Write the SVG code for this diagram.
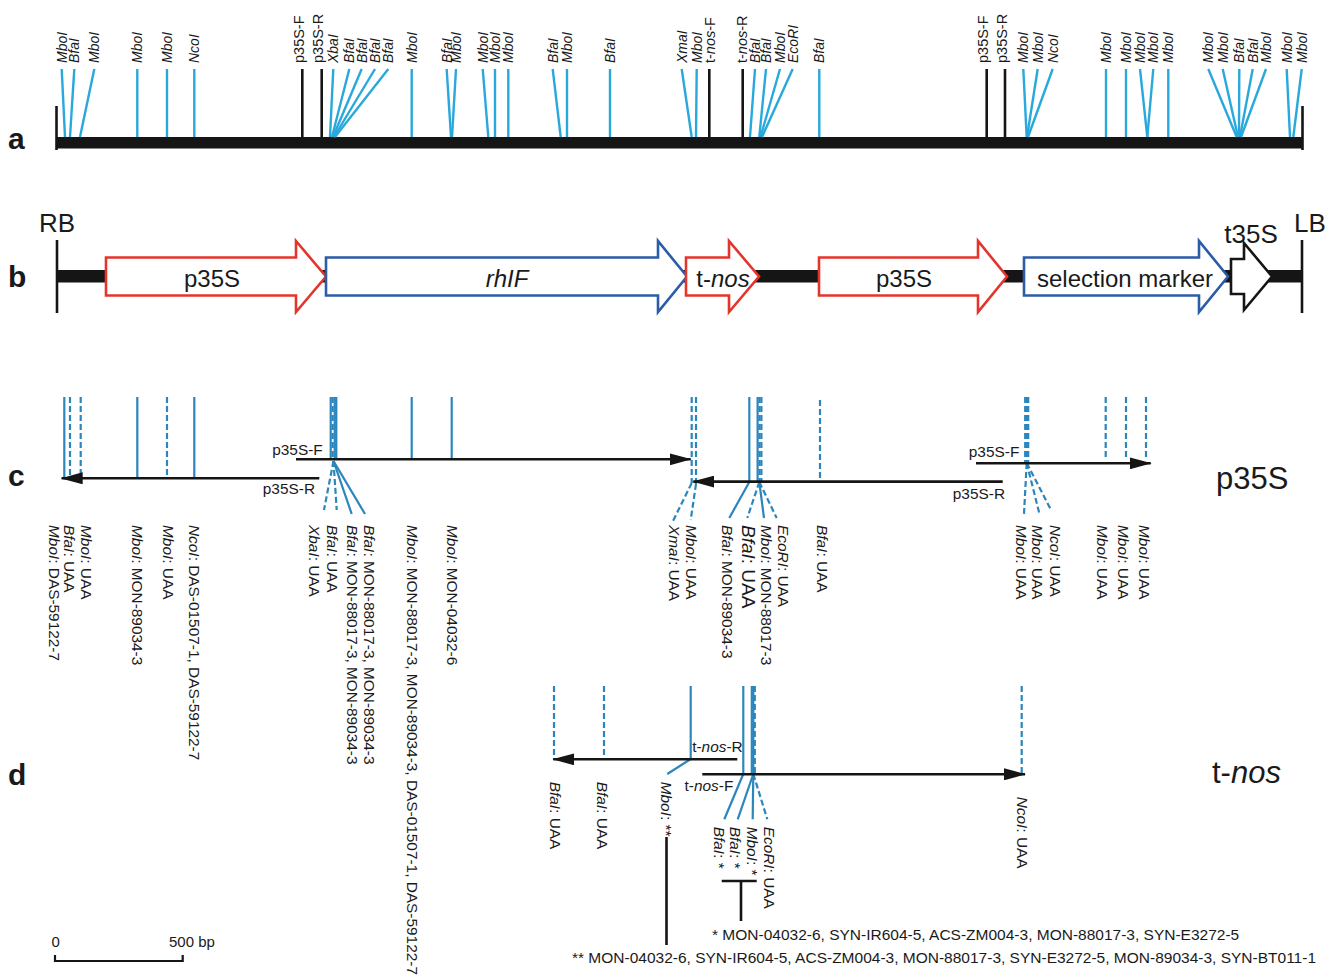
<svg xmlns="http://www.w3.org/2000/svg" width="1336" height="978" viewBox="0 0 1336 978">
<style>
text{font-family:"Liberation Sans",Arial,Helvetica,sans-serif;fill:#1a1a1a}
.i{font-style:italic}
.la{font-size:14px;font-style:italic}
.lp{font-size:14.5px}
.lc{font-size:15.4px}
.big{font-size:24px}
.bb{font-size:26px}
.row{font-size:30px;font-weight:bold}
.a{stroke:#29a8dc;stroke-width:2.4;fill:none}
.k{stroke:#151515;stroke-width:2.6;fill:none}
.c{stroke:#2b86bd;stroke-width:2.2;fill:none}
.cd{stroke:#2b86bd;stroke-width:2.2;fill:none;stroke-dasharray:6 3}
.ar{stroke:#151515;stroke-width:2.6;fill:none;marker-end:url(#ah)}
.red{fill:#fff;stroke:#e3352b;stroke-width:2.6}
.blu{fill:#fff;stroke:#2b5ca8;stroke-width:2.6}
.blk{fill:#fff;stroke:#151515;stroke-width:2.6}
</style>
<defs>
<marker id="ah" markerUnits="userSpaceOnUse" markerWidth="22" markerHeight="12" viewBox="0 0 22 12" refX="21" refY="6" orient="auto">
<path d="M0,0 L22,6 L0,12 z" fill="#151515"/>
</marker>
</defs>
<rect width="1336" height="978" fill="#fff"/>

<g id="row-letters">
<text class="row" x="8" y="149">a</text>
<text class="row" x="8" y="287">b</text>
<text class="row" x="8" y="486">c</text>
<text class="row" x="8" y="785">d</text>
</g>

<!-- ROW A -->
<g id="row-a">
<rect x="56" y="137" width="1247" height="11.5" fill="#151515"/>
<line class="k" x1="56.5" y1="106" x2="56.5" y2="150" stroke-width="2"/>
<line class="k" x1="1302.5" y1="106" x2="1302.5" y2="150" stroke-width="2"/>
<g id="row-a-sites">
<line class="a" x1="61.7" y1="69" x2="65" y2="137"/>
<line class="a" x1="74.3" y1="69" x2="70" y2="137"/>
<line class="a" x1="94.3" y1="69" x2="80" y2="137"/>
<line class="a" x1="137.3" y1="69" x2="137.3" y2="137"/>
<line class="a" x1="167" y1="69" x2="167" y2="137"/>
<line class="a" x1="194.3" y1="69" x2="194.3" y2="137"/>
<line class="a" x1="333.3" y1="69" x2="330" y2="137"/>
<line class="a" x1="349.3" y1="69" x2="332" y2="137"/>
<line class="a" x1="361.7" y1="69" x2="333" y2="137"/>
<line class="a" x1="375" y1="69" x2="334" y2="137"/>
<line class="a" x1="388.3" y1="69" x2="335" y2="137"/>
<line class="a" x1="411.7" y1="69" x2="411.7" y2="137"/>
<line class="a" x1="446.7" y1="69" x2="451" y2="137"/>
<line class="a" x1="456" y1="69" x2="452" y2="137"/>
<line class="a" x1="482.7" y1="69" x2="488.3" y2="137"/>
<line class="a" x1="495" y1="69" x2="495" y2="137"/>
<line class="a" x1="508.3" y1="69" x2="508.3" y2="137"/>
<line class="a" x1="552.7" y1="69" x2="560.7" y2="137"/>
<line class="a" x1="567" y1="69" x2="567" y2="137"/>
<line class="a" x1="610" y1="69" x2="610" y2="137"/>
<line class="a" x1="681.7" y1="69" x2="691.7" y2="137"/>
<line class="a" x1="696.7" y1="69" x2="696" y2="137"/>
<line class="a" x1="755" y1="69" x2="750" y2="137"/>
<line class="a" x1="766" y1="69" x2="759.3" y2="137"/>
<line class="a" x1="780" y1="69" x2="760.5" y2="137"/>
<line class="a" x1="792.7" y1="69" x2="762" y2="137"/>
<line class="a" x1="819.3" y1="69" x2="819.3" y2="137"/>
<line class="a" x1="1023.3" y1="69" x2="1026.7" y2="137"/>
<line class="a" x1="1037.7" y1="69" x2="1027" y2="137"/>
<line class="a" x1="1052.7" y1="69" x2="1028" y2="137"/>
<line class="a" x1="1106" y1="69" x2="1106" y2="137"/>
<line class="a" x1="1126" y1="69" x2="1126" y2="137"/>
<line class="a" x1="1140" y1="69" x2="1147.3" y2="137"/>
<line class="a" x1="1153.3" y1="69" x2="1147.3" y2="137"/>
<line class="a" x1="1168.3" y1="69" x2="1168.3" y2="137"/>
<line class="a" x1="1208.3" y1="69" x2="1236.7" y2="137"/>
<line class="a" x1="1222.7" y1="69" x2="1238" y2="137"/>
<line class="a" x1="1239.3" y1="69" x2="1239" y2="137"/>
<line class="a" x1="1252.7" y1="69" x2="1240" y2="137"/>
<line class="a" x1="1266" y1="69" x2="1241" y2="137"/>
<line class="a" x1="1286.7" y1="69" x2="1290" y2="137"/>
<line class="a" x1="1301.7" y1="69" x2="1293.3" y2="137"/>
<line class="k" x1="302.3" y1="69" x2="302.3" y2="137"/>
<line class="k" x1="321.7" y1="69" x2="321.7" y2="137"/>
<line class="k" x1="709.3" y1="69" x2="709.3" y2="137"/>
<line class="k" x1="742.7" y1="69" x2="742.7" y2="137"/>
<line class="k" x1="986.7" y1="69" x2="986.7" y2="137"/>
<line class="k" x1="1005" y1="69" x2="1005" y2="137"/>
</g>
<g id="row-a-labels" class="la">
<text transform="translate(66.7,63) rotate(-90)">MboI</text>
<text transform="translate(79.3,63) rotate(-90)">BfaI</text>
<text transform="translate(99.3,63) rotate(-90)">MboI</text>
<text transform="translate(142.3,63) rotate(-90)">MboI</text>
<text transform="translate(172,63) rotate(-90)">MboI</text>
<text transform="translate(199.3,63) rotate(-90)">NcoI</text>
<text transform="translate(338.3,63) rotate(-90)">XbaI</text>
<text transform="translate(354.3,63) rotate(-90)">BfaI</text>
<text transform="translate(366.7,63) rotate(-90)">BfaI</text>
<text transform="translate(380,63) rotate(-90)">BfaI</text>
<text transform="translate(393.3,63) rotate(-90)">BfaI</text>
<text transform="translate(416.7,63) rotate(-90)">MboI</text>
<text transform="translate(451.7,63) rotate(-90)">BfaI</text>
<text transform="translate(461,63) rotate(-90)">MboI</text>
<text transform="translate(487.7,63) rotate(-90)">MboI</text>
<text transform="translate(500,63) rotate(-90)">MboI</text>
<text transform="translate(513.3,63) rotate(-90)">MboI</text>
<text transform="translate(557.7,63) rotate(-90)">BfaI</text>
<text transform="translate(572,63) rotate(-90)">MboI</text>
<text transform="translate(615,63) rotate(-90)">BfaI</text>
<text transform="translate(686.7,63) rotate(-90)">XmaI</text>
<text transform="translate(701.7,63) rotate(-90)">MboI</text>
<text transform="translate(760,63) rotate(-90)">BfaI</text>
<text transform="translate(771,63) rotate(-90)">BfaI</text>
<text transform="translate(785,63) rotate(-90)">MboI</text>
<text transform="translate(797.7,63) rotate(-90)">EcoRI</text>
<text transform="translate(824.3,63) rotate(-90)">BfaI</text>
<text transform="translate(1028.3,63) rotate(-90)">MboI</text>
<text transform="translate(1042.7,63) rotate(-90)">MboI</text>
<text transform="translate(1057.7,63) rotate(-90)">NcoI</text>
<text transform="translate(1111,63) rotate(-90)">MboI</text>
<text transform="translate(1131,63) rotate(-90)">MboI</text>
<text transform="translate(1145,63) rotate(-90)">MboI</text>
<text transform="translate(1158.3,63) rotate(-90)">MboI</text>
<text transform="translate(1173.3,63) rotate(-90)">MboI</text>
<text transform="translate(1213.3,63) rotate(-90)">MboI</text>
<text transform="translate(1227.7,63) rotate(-90)">MboI</text>
<text transform="translate(1244.3,63) rotate(-90)">BfaI</text>
<text transform="translate(1257.7,63) rotate(-90)">BfaI</text>
<text transform="translate(1271,63) rotate(-90)">MboI</text>
<text transform="translate(1291.7,63) rotate(-90)">MboI</text>
<text transform="translate(1306.7,63) rotate(-90)">MboI</text>
</g>
<g id="row-a-primers" class="lp">
<text transform="translate(303.8,63) rotate(-90)">p35S-F</text>
<text transform="translate(323.2,63) rotate(-90)">p35S-R</text>
<text transform="translate(714.8,63) rotate(-90)">t-<tspan class="i">nos</tspan>-F</text>
<text transform="translate(746.7,63) rotate(-90)">t-<tspan class="i">nos</tspan>-R</text>
<text transform="translate(988.2,63) rotate(-90)">p35S-F</text>
<text transform="translate(1006.5,63) rotate(-90)">p35S-R</text>
</g>
</g>

<!-- ROW B -->
<g id="row-b">
<rect x="57" y="270" width="1245" height="12.5" fill="#151515"/>
<line class="k" x1="57" y1="240" x2="57" y2="313" stroke-width="2"/>
<line class="k" x1="1302" y1="240" x2="1302" y2="313" stroke-width="2"/>
<text class="bb" x="39" y="232">RB</text>
<text class="bb" x="1294" y="232">LB</text>
<g id="b-p35S-1">
<polygon class="red" points="106,257.5 296,257.5 296,241 326,276.5 296,312 296,295.5 106,295.5"/>
<text class="big" x="212" y="287" text-anchor="middle">p35S</text>
</g>
<g id="b-rhIF">
<polygon class="blu" points="326,257.5 658,257.5 658,241 687,276.5 658,312 658,295.5 326,295.5"/>
<text class="big i" x="507" y="287" text-anchor="middle">rhIF</text>
</g>
<g id="b-t-nos">
<polygon class="red" points="686,257.5 729,257.5 729,241 759,276.5 729,312 729,295.5 686,295.5"/>
<text class="big" x="723" y="287" text-anchor="middle">t-<tspan class="i">nos</tspan></text>
</g>
<g id="b-p35S-2">
<polygon class="red" points="819,257.5 978,257.5 978,241 1007,276.5 978,312 978,295.5 819,295.5"/>
<text class="big" x="904" y="287" text-anchor="middle">p35S</text>
</g>
<g id="b-selection-marker">
<polygon class="blu" points="1024,257.5 1199,257.5 1199,241 1228,276.5 1199,312 1199,295.5 1024,295.5"/>
<text class="big" x="1125" y="287" text-anchor="middle">selection marker</text>
</g>
<g id="b-t35S">
<polygon class="blk" points="1231,259 1244,259 1244,243 1272,276.5 1244,310 1244,294 1231,294"/>
<text class="bb" x="1251" y="243" text-anchor="middle">t35S</text>
</g>
</g>

<!-- ROW C -->
<g id="row-c">
<g id="c-sites">
<line class="c" x1="64.3" y1="397" x2="64.3" y2="478"/>
<line class="cd" x1="70" y1="397" x2="70" y2="478"/>
<line class="cd" x1="80.7" y1="397" x2="80.7" y2="476"/>
<line class="c" x1="137.3" y1="397" x2="137.3" y2="478"/>
<line class="cd" x1="167" y1="397" x2="167" y2="478"/>
<line class="c" x1="194.3" y1="397" x2="194.3" y2="478"/>
<line class="c" x1="330.7" y1="397" x2="330.7" y2="460"/>
<line class="cd" x1="332.7" y1="397" x2="332.7" y2="460"/>
<line class="c" x1="334.7" y1="397" x2="334.7" y2="460"/>
<line class="c" x1="336.3" y1="397" x2="336.3" y2="460"/>
<line class="cd" x1="333.5" y1="461" x2="324" y2="510"/>
<line class="cd" x1="333.5" y1="461" x2="336.7" y2="510"/>
<line class="c" x1="333.5" y1="461" x2="351.7" y2="514"/>
<line class="c" x1="333.5" y1="461" x2="365" y2="514"/>
<line class="c" x1="411.7" y1="397" x2="411.7" y2="459"/>
<line class="c" x1="451.7" y1="397" x2="451.7" y2="459"/>
<line class="cd" x1="691.7" y1="397" x2="691.7" y2="483"/>
<line class="cd" x1="691.7" y1="483" x2="673" y2="521"/>
<line class="cd" x1="696" y1="397" x2="696" y2="484"/>
<line class="cd" x1="696" y1="484" x2="690.7" y2="520"/>
<line class="c" x1="749.3" y1="397" x2="749.3" y2="482"/>
<line class="c" x1="749.3" y1="482" x2="729.3" y2="518"/>
<line class="c" x1="757.6" y1="397" x2="757.6" y2="482"/>
<line class="cd" x1="759.5" y1="397" x2="759.5" y2="482"/>
<line class="cd" x1="761.4" y1="397" x2="761.4" y2="482"/>
<line class="cd" x1="759.3" y1="482" x2="747.3" y2="518"/>
<line class="c" x1="759.3" y1="482" x2="764" y2="518"/>
<line class="cd" x1="759.3" y1="482" x2="776.7" y2="518"/>
<line class="cd" x1="820" y1="400" x2="820" y2="480"/>
<line class="cd" x1="1025.2" y1="397" x2="1025.2" y2="463"/>
<line class="cd" x1="1026.7" y1="397" x2="1026.7" y2="463"/>
<line class="cd" x1="1028.2" y1="397" x2="1028.2" y2="463"/>
<line class="cd" x1="1026.7" y1="463" x2="1024" y2="514"/>
<line class="cd" x1="1026.7" y1="463" x2="1039.3" y2="513.3"/>
<line class="cd" x1="1026.7" y1="463" x2="1050.7" y2="509.3"/>
<line class="cd" x1="1105.7" y1="397" x2="1105.7" y2="460"/>
<line class="cd" x1="1126" y1="397" x2="1126" y2="460"/>
<line class="cd" x1="1146" y1="397" x2="1146" y2="460"/>
</g>
<g id="c-primers">
<line class="ar" x1="319.3" y1="478.3" x2="61.7" y2="478.3"/>
<line class="ar" x1="296" y1="459.3" x2="690.7" y2="459.3"/>
<line class="ar" x1="1002.7" y1="481.6" x2="693.3" y2="481.6"/>
<line class="ar" x1="976" y1="463.3" x2="1150.7" y2="463.3"/>
<text class="lc" x="322.7" y="455" text-anchor="end">p35S-F</text>
<text class="lc" x="315" y="494" text-anchor="end">p35S-R</text>
<text class="lc" x="1019.3" y="457" text-anchor="end">p35S-F</text>
<text class="lc" x="1005" y="498.5" text-anchor="end">p35S-R</text>
</g>
<g id="c-labels" class="lc">
<text transform="translate(48.5,525) rotate(90)"><tspan class="i">MboI</tspan>: DAS-59122-7</text>
<text transform="translate(63.5,525) rotate(90)"><tspan class="i">BfaI</tspan>: UAA</text>
<text transform="translate(80.5,525) rotate(90)"><tspan class="i">MboI</tspan>: UAA</text>
<text transform="translate(132,525) rotate(90)"><tspan class="i">MboI</tspan>: MON-89034-3</text>
<text transform="translate(162.5,525) rotate(90)"><tspan class="i">MboI</tspan>: UAA</text>
<text transform="translate(188.5,525) rotate(90)"><tspan class="i">NcoI</tspan>: DAS-01507-1, DAS-59122-7</text>
<text transform="translate(308.5,525) rotate(90)"><tspan class="i">XbaI</tspan>: UAA</text>
<text transform="translate(326.5,525) rotate(90)"><tspan class="i">BfaI</tspan>: UAA</text>
<text transform="translate(346.5,525) rotate(90)"><tspan class="i">BfaI</tspan>: MON-88017-3, MON-89034-3</text>
<text transform="translate(363.5,525) rotate(90)"><tspan class="i">BfaI</tspan>: MON-88017-3, MON-89034-3</text>
<text transform="translate(406.5,525) rotate(90)"><tspan class="i">MboI</tspan>: MON-88017-3, MON-89034-3, DAS-01507-1, DAS-59122-7</text>
<text transform="translate(446.5,525) rotate(90)"><tspan class="i">MboI</tspan>: MON-04032-6</text>
<text transform="translate(668.5,525) rotate(90)"><tspan class="i">XmaI</tspan>: UAA</text>
<text transform="translate(685.5,525) rotate(90)"><tspan class="i">MboI</tspan>: UAA</text>
<text transform="translate(722,525) rotate(90)"><tspan class="i">BfaI</tspan>: MON-89034-3</text>
<text transform="translate(742,525) rotate(90)" style="font-size:19px"><tspan class="i">BfaI</tspan>: UAA</text>
<text transform="translate(760.5,525) rotate(90)"><tspan class="i">MboI</tspan>: MON-88017-3</text>
<text transform="translate(777.5,525) rotate(90)"><tspan class="i">EcoRI</tspan>: UAA</text>
<text transform="translate(817,525) rotate(90)"><tspan class="i">BfaI</tspan>: UAA</text>
<text transform="translate(1015.5,525) rotate(90)"><tspan class="i">MboI</tspan>: UAA</text>
<text transform="translate(1032,525) rotate(90)"><tspan class="i">MboI</tspan>: UAA</text>
<text transform="translate(1049.5,525) rotate(90)"><tspan class="i">NcoI</tspan>: UAA</text>
<text transform="translate(1097,525) rotate(90)"><tspan class="i">MboI</tspan>: UAA</text>
<text transform="translate(1117.5,525) rotate(90)"><tspan class="i">MboI</tspan>: UAA</text>
<text transform="translate(1138.5,525) rotate(90)"><tspan class="i">MboI</tspan>: UAA</text>
</g>
<text x="1216" y="489" style="font-size:31px">p35S</text>
</g>

<!-- ROW D -->
<g id="row-d">
<g id="d-sites">
<line class="cd" x1="554" y1="686" x2="554" y2="759"/>
<line class="cd" x1="604" y1="686" x2="604" y2="759"/>
<line class="c" x1="690.7" y1="686" x2="690.7" y2="759"/>
<line class="c" x1="690.7" y1="759" x2="667.3" y2="774"/>
<line class="c" x1="743.3" y1="686" x2="743.3" y2="774"/>
<line class="c" x1="743.3" y1="774" x2="724.3" y2="819.3"/>
<line class="c" x1="751.8" y1="686" x2="751.8" y2="774"/>
<line class="c" x1="753.3" y1="686" x2="753.3" y2="774"/>
<line class="cd" x1="754.8" y1="686" x2="754.8" y2="774"/>
<line class="c" x1="753.3" y1="774" x2="737.7" y2="819.3"/>
<line class="c" x1="753.3" y1="774" x2="752.7" y2="819.3"/>
<line class="cd" x1="753.3" y1="774" x2="767.3" y2="819.3"/>
<line class="cd" x1="1021.7" y1="686" x2="1021.7" y2="774"/>
</g>
<g id="d-primers">
<line class="ar" x1="737.3" y1="759.3" x2="553.3" y2="759.3"/>
<line class="ar" x1="702.3" y1="774.3" x2="1025" y2="774.3"/>
<text class="lc" x="742.7" y="752" text-anchor="end">t-<tspan class="i">nos</tspan>-R</text>
<text class="lc" x="733.3" y="791" text-anchor="end">t-<tspan class="i">nos</tspan>-F</text>
</g>
<g id="d-labels" class="lc">
<text transform="translate(550,781.7) rotate(90)"><tspan class="i">BfaI</tspan>: UAA</text>
<text transform="translate(597,781.7) rotate(90)"><tspan class="i">BfaI</tspan>: UAA</text>
<text transform="translate(660.5,781.7) rotate(90)"><tspan class="i">MboI</tspan>: **</text>
<text transform="translate(713.5,826.7) rotate(90)"><tspan class="i">BfaI</tspan>: *</text>
<text transform="translate(729.5,826.7) rotate(90)"><tspan class="i">BfaI</tspan>: *</text>
<text transform="translate(746.5,826.7) rotate(90)"><tspan class="i">MboI</tspan>: *</text>
<text transform="translate(763.5,826.7) rotate(90)"><tspan class="i">EcoRI</tspan>: UAA</text>
<text transform="translate(1017,796.7) rotate(90)"><tspan class="i">NcoI</tspan>: UAA</text>
</g>
<g id="d-footnotes">
<line class="k" x1="721.7" y1="881" x2="756.7" y2="881"/>
<line class="k" x1="741" y1="881" x2="741" y2="921"/>
<line class="k" x1="666.5" y1="837" x2="666.5" y2="945"/>
<text x="712" y="940" style="font-size:15.5px">* MON-04032-6, SYN-IR604-5, ACS-ZM004-3, MON-88017-3, SYN-E3272-5</text>
<text x="572" y="963" style="font-size:15.5px">** MON-04032-6, SYN-IR604-5, ACS-ZM004-3, MON-88017-3, SYN-E3272-5, MON-89034-3, SYN-BT011-1</text>
</g>
<text x="1212" y="783" style="font-size:31px">t-<tspan class="i">nos</tspan></text>
</g>

<g id="scale-bar">
<path d="M55,955 V961 H182.7 V955" fill="none" stroke="#151515" stroke-width="2.2"/>
<text x="51.5" y="947" style="font-size:15px">0</text>
<text x="169" y="947" style="font-size:15px">500 bp</text>
</g>
</svg>
